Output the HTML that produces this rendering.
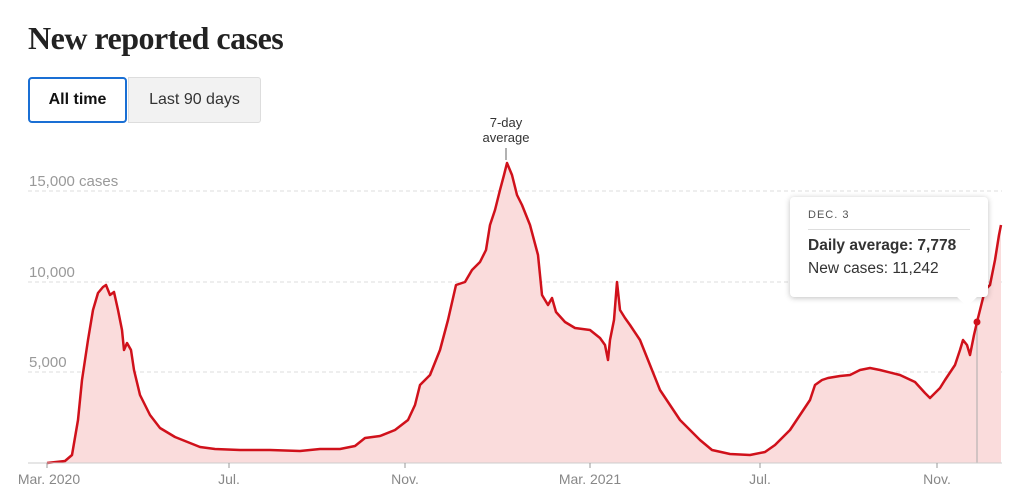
<!DOCTYPE html>
<html><head><style>
body{margin:0;width:1024px;height:501px;background:#fff;font-family:"Liberation Sans",sans-serif;position:relative;overflow:hidden}
h1{position:absolute;left:28px;top:20px;margin:0;font-family:"Liberation Serif",serif;font-size:32px;font-weight:bold;color:#222;letter-spacing:-0.5px}
.b{position:absolute;top:77px;height:46px;box-sizing:border-box;font-size:16px;display:flex;align-items:center;justify-content:center;color:#333}
.tt{position:absolute;left:790px;top:197px;width:198px;height:100px;background:#fff;border-radius:4px;box-shadow:0 1px 6px rgba(0,0,0,.25);box-sizing:border-box;padding:12px 18px}
</style></head><body>
<h1>New reported cases</h1>
<div class="b" style="left:128px;width:133px;background:#f2f2f2;border:1px solid #ddd;border-radius:0 3px 3px 0">Last 90 days</div>
<div class="b" style="left:28px;width:99px;border:2px solid #1a6fd4;border-radius:4px;background:#fff;font-weight:bold;color:#111">All time</div>
<svg width="1024" height="501" style="position:absolute;left:0;top:0">
<g stroke="#ddd" stroke-dasharray="4,3" stroke-width="1">
<line x1="28" x2="1002" y1="191" y2="191"/><line x1="28" x2="1002" y1="282" y2="282"/><line x1="28" x2="1002" y1="372" y2="372"/></g>
<g font-size="15" fill="#999"><text x="29" y="186">15,000 cases</text><text x="29" y="277">10,000</text><text x="29" y="367">5,000</text></g>
<polygon fill="#fadcdc" points="47,463 47,463 65,461 72,455 78,420 82,380 88,340 93,310 98,293 103,287 106,285 110,295 114,292 118,310 122,330 124,350 127,343 131,350 134,370 140,395 150,415 160,428 175,437 190,443 200,447 215,449 240,450 270,450 300,451 320,449 340,449 355,446 365,438 380,436 395,430 408,420 415,405 420,385 430,375 440,350 448,320 456,285 465,282 472,270 480,262 486,250 490,225 495,210 500,190 504,175 507,163 512,175 517,195 522,205 530,225 538,255 542,295 548,305 552,298 556,312 565,322 575,328 590,330 600,338 605,345 608,360 610,340 614,320 617,282 620,310 625,318 630,325 640,340 650,365 660,390 670,405 680,420 690,430 700,440 712,450 730,454 750,455 765,452 775,445 790,430 800,415 810,400 815,385 822,380 828,378 840,376 850,375 860,370 870,368 880,370 900,375 915,382 925,393 930,398 940,388 945,380 955,365 960,350 963,340 967,345 970,355 974,335 977,322 980,310 985,290 990,285 995,260 999,235 1001,225 1001,463"/>
<line x1="977" x2="977" y1="322" y2="463" stroke="#aaa"/>
<polyline fill="none" stroke="#d0111b" stroke-width="2.5" stroke-linejoin="round" points="47,463 65,461 72,455 78,420 82,380 88,340 93,310 98,293 103,287 106,285 110,295 114,292 118,310 122,330 124,350 127,343 131,350 134,370 140,395 150,415 160,428 175,437 190,443 200,447 215,449 240,450 270,450 300,451 320,449 340,449 355,446 365,438 380,436 395,430 408,420 415,405 420,385 430,375 440,350 448,320 456,285 465,282 472,270 480,262 486,250 490,225 495,210 500,190 504,175 507,163 512,175 517,195 522,205 530,225 538,255 542,295 548,305 552,298 556,312 565,322 575,328 590,330 600,338 605,345 608,360 610,340 614,320 617,282 620,310 625,318 630,325 640,340 650,365 660,390 670,405 680,420 690,430 700,440 712,450 730,454 750,455 765,452 775,445 790,430 800,415 810,400 815,385 822,380 828,378 840,376 850,375 860,370 870,368 880,370 900,375 915,382 925,393 930,398 940,388 945,380 955,365 960,350 963,340 967,345 970,355 974,335 977,322 980,310 985,290 990,285 995,260 999,235 1001,225"/>
<circle cx="977" cy="322" r="3.5" fill="#d0111b"/>
<line x1="28" x2="1002" y1="463" y2="463" stroke="#ccc"/>
<g stroke="#999"><line x1="47" x2="47" y1="463" y2="468"/><line x1="229" x2="229" y1="463" y2="468"/><line x1="405" x2="405" y1="463" y2="468"/><line x1="590" x2="590" y1="463" y2="468"/><line x1="760" x2="760" y1="463" y2="468"/><line x1="937" x2="937" y1="463" y2="468"/></g>
<g font-size="14" fill="#888" text-anchor="middle"><text x="49" y="484">Mar. 2020</text><text x="229" y="484">Jul.</text><text x="405" y="484">Nov.</text><text x="590" y="484">Mar. 2021</text><text x="760" y="484">Jul.</text><text x="937" y="484">Nov.</text></g>
<g font-size="13" fill="#333" text-anchor="middle"><text x="506" y="127">7-day</text><text x="506" y="142">average</text></g>
<line x1="506" x2="506" y1="148" y2="160" stroke="#666"/>
</svg>
<div class="tt">
<div style="font-size:11px;color:#555;letter-spacing:1px">DEC. 3</div>
<div style="border-top:1px solid #ddd;margin:8px 0 7px"></div>
<div style="font-size:15.5px;font-weight:bold;color:#333">Daily average: 7,778</div>
<div style="font-size:15.5px;color:#333;margin-top:5px">New cases: 11,242</div>
</div>
<div style="position:absolute;left:960px;top:290px;width:14px;height:14px;background:#fff;transform:rotate(45deg)"></div>
</body></html>
